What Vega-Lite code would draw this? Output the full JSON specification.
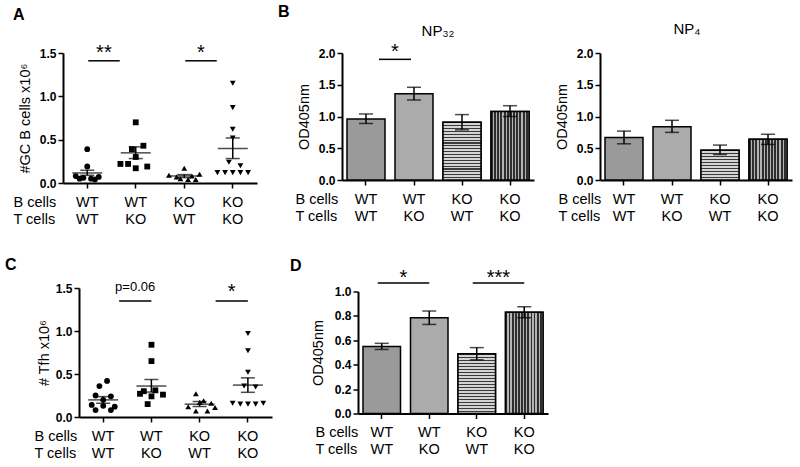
{
  "$schema": "https://vega.github.io/schema/vega-lite/v6.json",
  "background": "white",
  "padding": {"left": 5, "top": 4, "right": 5, "bottom": 5},
  "datasets": {
    "gcb": [
      {"grp": "WT/WT", "mouse": "m5", "v": 0.39}, {"grp": "WT/WT", "mouse": "m5", "v": 0.19},
      {"grp": "WT/WT", "mouse": "m2", "v": 0.08}, {"grp": "WT/WT", "mouse": "m8", "v": 0.07},
      {"grp": "WT/WT", "mouse": "m4", "v": 0.06}, {"grp": "WT/WT", "mouse": "m6", "v": 0.05},
      {"grp": "WT/WT", "mouse": "m3", "v": 0.05}, {"grp": "WT/WT", "mouse": "m7", "v": 0.04},
      {"grp": "WT/KO", "mouse": "m5", "v": 0.70}, {"grp": "WT/KO", "mouse": "m7", "v": 0.43},
      {"grp": "WT/KO", "mouse": "m4", "v": 0.39}, {"grp": "WT/KO", "mouse": "m5", "v": 0.30},
      {"grp": "WT/KO", "mouse": "m1", "v": 0.22}, {"grp": "WT/KO", "mouse": "m3", "v": 0.22},
      {"grp": "WT/KO", "mouse": "m5", "v": 0.17}, {"grp": "WT/KO", "mouse": "m8", "v": 0.19},
      {"grp": "KO/WT", "mouse": "m5", "v": 0.17}, {"grp": "KO/WT", "mouse": "m9", "v": 0.10},
      {"grp": "KO/WT", "mouse": "m1", "v": 0.09}, {"grp": "KO/WT", "mouse": "m7", "v": 0.08},
      {"grp": "KO/WT", "mouse": "m3", "v": 0.07}, {"grp": "KO/WT", "mouse": "m4", "v": 0.05},
      {"grp": "KO/WT", "mouse": "m6", "v": 0.04}, {"grp": "KO/WT", "mouse": "m8", "v": 0.04},
      {"grp": "KO/KO", "mouse": "m5", "v": 1.15}, {"grp": "KO/KO", "mouse": "m5", "v": 0.87},
      {"grp": "KO/KO", "mouse": "m5", "v": 0.62}, {"grp": "KO/KO", "mouse": "m5", "v": 0.52},
      {"grp": "KO/KO", "mouse": "m4", "v": 0.24}, {"grp": "KO/KO", "mouse": "m7", "v": 0.20},
      {"grp": "KO/KO", "mouse": "m1", "v": 0.12}, {"grp": "KO/KO", "mouse": "m3", "v": 0.12},
      {"grp": "KO/KO", "mouse": "m5", "v": 0.12}, {"grp": "KO/KO", "mouse": "m7", "v": 0.12},
      {"grp": "KO/KO", "mouse": "m9", "v": 0.12}
    ],
    "gcbsum": [
      {"grp": "WT/WT", "mean": 0.116, "lo": 0.089, "hi": 0.147},
      {"grp": "WT/KO", "mean": 0.348, "lo": 0.282, "hi": 0.417},
      {"grp": "KO/WT", "mean": 0.081, "lo": 0.062, "hi": 0.097},
      {"grp": "KO/KO", "mean": 0.398, "lo": 0.282, "hi": 0.52}
    ],
    "tfh": [
      {"grp": "WT/WT", "mouse": "m6", "v": 0.42}, {"grp": "WT/WT", "mouse": "m4", "v": 0.36},
      {"grp": "WT/WT", "mouse": "m3", "v": 0.25}, {"grp": "WT/WT", "mouse": "m7", "v": 0.24},
      {"grp": "WT/WT", "mouse": "m5", "v": 0.20}, {"grp": "WT/WT", "mouse": "m2", "v": 0.14},
      {"grp": "WT/WT", "mouse": "m5", "v": 0.13}, {"grp": "WT/WT", "mouse": "m8", "v": 0.12},
      {"grp": "WT/WT", "mouse": "m3", "v": 0.08}, {"grp": "WT/WT", "mouse": "m7", "v": 0.08},
      {"grp": "WT/KO", "mouse": "m5", "v": 0.84}, {"grp": "WT/KO", "mouse": "m5", "v": 0.65},
      {"grp": "WT/KO", "mouse": "m6", "v": 0.31}, {"grp": "WT/KO", "mouse": "m3", "v": 0.30},
      {"grp": "WT/KO", "mouse": "m2", "v": 0.27}, {"grp": "WT/KO", "mouse": "m8", "v": 0.26},
      {"grp": "WT/KO", "mouse": "m5", "v": 0.24}, {"grp": "WT/KO", "mouse": "m4", "v": 0.15},
      {"grp": "KO/WT", "mouse": "m4", "v": 0.27}, {"grp": "KO/WT", "mouse": "m6", "v": 0.19},
      {"grp": "KO/WT", "mouse": "m5", "v": 0.17}, {"grp": "KO/WT", "mouse": "m8", "v": 0.16},
      {"grp": "KO/WT", "mouse": "m2", "v": 0.12}, {"grp": "KO/WT", "mouse": "m9", "v": 0.11},
      {"grp": "KO/WT", "mouse": "m4", "v": 0.07}, {"grp": "KO/WT", "mouse": "m7", "v": 0.07},
      {"grp": "KO/KO", "mouse": "m5", "v": 0.97}, {"grp": "KO/KO", "mouse": "m5", "v": 0.77},
      {"grp": "KO/KO", "mouse": "m5", "v": 0.52}, {"grp": "KO/KO", "mouse": "m4", "v": 0.36},
      {"grp": "KO/KO", "mouse": "m7", "v": 0.35}, {"grp": "KO/KO", "mouse": "m1", "v": 0.16},
      {"grp": "KO/KO", "mouse": "m3", "v": 0.15}, {"grp": "KO/KO", "mouse": "m5", "v": 0.15},
      {"grp": "KO/KO", "mouse": "m7", "v": 0.15}, {"grp": "KO/KO", "mouse": "m9", "v": 0.16}
    ],
    "tfhsum": [
      {"grp": "WT/WT", "mean": 0.199, "lo": 0.16, "hi": 0.237},
      {"grp": "WT/KO", "mean": 0.36, "lo": 0.29, "hi": 0.436},
      {"grp": "KO/WT", "mean": 0.149, "lo": 0.122, "hi": 0.18},
      {"grp": "KO/KO", "mean": 0.371, "lo": 0.287, "hi": 0.455}
    ],
    "np32": [
      {"grp": "WT/WT", "mean": 0.96, "lo": 0.89, "hi": 1.04},
      {"grp": "WT/KO", "mean": 1.36, "lo": 1.26, "hi": 1.46},
      {"grp": "KO/WT", "mean": 0.91, "lo": 0.79, "hi": 1.03},
      {"grp": "KO/KO", "mean": 1.08, "lo": 1.0, "hi": 1.17}
    ],
    "np4": [
      {"grp": "WT/WT", "mean": 0.67, "lo": 0.57, "hi": 0.77},
      {"grp": "WT/KO", "mean": 0.84, "lo": 0.75, "hi": 0.94},
      {"grp": "KO/WT", "mean": 0.47, "lo": 0.40, "hi": 0.55},
      {"grp": "KO/KO", "mean": 0.64, "lo": 0.56, "hi": 0.72}
    ],
    "od": [
      {"grp": "WT/WT", "mean": 0.55, "lo": 0.525, "hi": 0.575},
      {"grp": "WT/KO", "mean": 0.785, "lo": 0.73, "hi": 0.84},
      {"grp": "KO/WT", "mean": 0.49, "lo": 0.44, "hi": 0.54},
      {"grp": "KO/KO", "mean": 0.83, "lo": 0.785, "hi": 0.875}
    ]
  },
  "vconcat": [
    {
      "hconcat": [
        {
          "width": 194, "height": 130,
          "title": {"text": "A", "dx": -50, "offset": 20},
          "layer": [
            {"data": {"name": "gcb"},
             "mark": {"type": "point", "filled": true, "color": "black", "opacity": 1, "size": 34},
             "encoding": {
               "x": {"field": "grp", "type": "nominal", "scale": {"domain": ["WT/WT","WT/KO","KO/WT","KO/KO"], "paddingInner": 0.21, "paddingOuter": 0.105}, "title": ["B cells", "T cells"], "axis": {"titleX": -50}},
               "xOffset": {"field": "mouse", "type": "nominal", "scale": {"type": "point", "domain": ["m1","m2","m3","m4","m5","m6","m7","m8","m9"], "padding": 2}},
               "y": {"field": "v", "type": "quantitative", "scale": {"domain": [0, 1.5], "nice": false}, "title": "#GC B cells x10⁶", "axis": {"values": [0, 0.5, 1, 1.5], "format": ".1f", "labelOverlap": false}},
               "shape": {"field": "grp", "type": "nominal", "scale": {"domain": ["WT/WT","WT/KO","KO/WT","KO/KO"], "range": ["circle","square","triangle-up","triangle-down"]}, "legend": null}
             }},
            {"data": {"name": "gcbsum"},
             "mark": {"type": "tick", "color": "black", "size": 30, "thickness": 1.5},
             "encoding": {
               "x": {"field": "grp", "type": "nominal", "scale": {"domain": ["WT/WT","WT/KO","KO/WT","KO/KO"], "paddingInner": 0.21, "paddingOuter": 0.105}},
               "y": {"field": "mean", "type": "quantitative", "scale": {"domain": [0, 1.5], "nice": false}}
             }},
            {"data": {"name": "gcbsum"},
             "mark": {"type": "tick", "color": "black", "size": 14, "thickness": 1.5},
             "encoding": {
               "x": {"field": "grp", "type": "nominal", "scale": {"domain": ["WT/WT","WT/KO","KO/WT","KO/KO"], "paddingInner": 0.21, "paddingOuter": 0.105}},
               "y": {"field": "hi", "type": "quantitative", "scale": {"domain": [0, 1.5], "nice": false}}
             }},
            {"data": {"name": "gcbsum"},
             "mark": {"type": "tick", "color": "black", "size": 14, "thickness": 1.5},
             "encoding": {
               "x": {"field": "grp", "type": "nominal", "scale": {"domain": ["WT/WT","WT/KO","KO/WT","KO/KO"], "paddingInner": 0.21, "paddingOuter": 0.105}},
               "y": {"field": "lo", "type": "quantitative", "scale": {"domain": [0, 1.5], "nice": false}}
             }},
            {"data": {"name": "gcbsum"},
             "mark": {"type": "rule", "color": "black", "strokeWidth": 1.5},
             "encoding": {
               "x": {"field": "grp", "type": "nominal", "scale": {"domain": ["WT/WT","WT/KO","KO/WT","KO/KO"], "paddingInner": 0.21, "paddingOuter": 0.105}},
               "y": {"field": "lo", "type": "quantitative", "scale": {"domain": [0, 1.5], "nice": false}},
               "y2": {"field": "hi"}
             }},
            {"data": {"values": [{"from": "WT/WT", "to": "WT/KO", "y": 1.41}, {"from": "KO/WT", "to": "KO/KO", "y": 1.41}]},
             "mark": {"type": "rule", "color": "black", "strokeWidth": 1.5, "xOffset": 1, "x2Offset": -16},
             "encoding": {
               "x": {"field": "from", "type": "nominal", "scale": {"domain": ["WT/WT","WT/KO","KO/WT","KO/KO"], "paddingInner": 0.21, "paddingOuter": 0.105}},
               "x2": {"field": "to"},
               "y": {"field": "y", "type": "quantitative", "scale": {"domain": [0, 1.5], "nice": false}}
             }},
            {"data": {"values": [{"from": "WT/WT", "y": 1.41, "label": "**"}, {"from": "KO/WT", "y": 1.41, "label": "*"}]},
             "mark": {"type": "text", "fontSize": 20, "baseline": "alphabetic", "dy": -2, "dx": -7.5, "color": "black"},
             "encoding": {
               "x": {"field": "from", "type": "nominal", "bandPosition": 1.13, "scale": {"domain": ["WT/WT","WT/KO","KO/WT","KO/KO"], "paddingInner": 0.21, "paddingOuter": 0.105}},
               "y": {"field": "y", "type": "quantitative", "scale": {"domain": [0, 1.5], "nice": false}},
               "text": {"field": "label"}
             }}
          ]
        },
        {
          "title": {"text": "B", "dx": -64, "offset": 2},
          "spacing": 66,
          "bounds": "flush",
          "hconcat": [
            {
              "width": 192, "height": 127,
              "title": {"text": "NP₃₂", "anchor": "middle", "fontWeight": "normal", "fontSize": 15, "offset": 3},
              "layer": [
                {"data": {"name": "np32"},
                 "mark": {"type": "bar", "stroke": "black", "strokeWidth": 1.5, "width": 38},
                 "encoding": {
                   "x": {"field": "grp", "type": "nominal", "scale": {"domain": ["WT/WT","WT/KO","KO/WT","KO/KO"], "paddingInner": 0.21, "paddingOuter": 0.105}, "title": ["B cells", "T cells"], "axis": {"titleX": -47}},
                   "y": {"field": "mean", "type": "quantitative", "stack": null, "scale": {"domain": [0, 2], "nice": false}, "title": "OD405nm", "axis": {"values": [0, 0.5, 1, 1.5, 2], "format": ".1f", "labelOverlap": false}},
                   "color": {"field": "grp", "type": "nominal", "scale": {"domain": ["WT/WT","WT/KO","KO/WT","KO/KO"], "range": ["#9a9a9a", "#ababab", "#8c8c8c", "#606060"]}, "legend": null}
                 }},
                {"data": {"name": "np32"},
                 "transform": [{"filter": "datum.grp == 'KO/WT'"}],
                 "mark": {"type": "bar", "stroke": "black", "strokeWidth": 1.5, "width": 38,
                          "fill": {"gradient": "linear", "x1": 0, "y1": 0, "x2": 0, "y2": 1, "stops": [
                            {"offset": 0, "color": "#3a3a3a"}, {"offset": 0.02, "color": "#3a3a3a"}, {"offset": 0.02, "color": "#d4d4d4"}, {"offset": 0.05, "color": "#d4d4d4"},
                            {"offset": 0.05, "color": "#3a3a3a"}, {"offset": 0.07, "color": "#3a3a3a"}, {"offset": 0.07, "color": "#d4d4d4"}, {"offset": 0.1, "color": "#d4d4d4"},
                            {"offset": 0.1, "color": "#3a3a3a"}, {"offset": 0.12, "color": "#3a3a3a"}, {"offset": 0.12, "color": "#d4d4d4"}, {"offset": 0.15, "color": "#d4d4d4"},
                            {"offset": 0.15, "color": "#3a3a3a"}, {"offset": 0.17, "color": "#3a3a3a"}, {"offset": 0.17, "color": "#d4d4d4"}, {"offset": 0.2, "color": "#d4d4d4"},
                            {"offset": 0.2, "color": "#3a3a3a"}, {"offset": 0.22, "color": "#3a3a3a"}, {"offset": 0.22, "color": "#d4d4d4"}, {"offset": 0.25, "color": "#d4d4d4"},
                            {"offset": 0.25, "color": "#3a3a3a"}, {"offset": 0.27, "color": "#3a3a3a"}, {"offset": 0.27, "color": "#d4d4d4"}, {"offset": 0.3, "color": "#d4d4d4"},
                            {"offset": 0.3, "color": "#3a3a3a"}, {"offset": 0.32, "color": "#3a3a3a"}, {"offset": 0.32, "color": "#d4d4d4"}, {"offset": 0.35, "color": "#d4d4d4"},
                            {"offset": 0.35, "color": "#3a3a3a"}, {"offset": 0.37, "color": "#3a3a3a"}, {"offset": 0.37, "color": "#d4d4d4"}, {"offset": 0.4, "color": "#d4d4d4"},
                            {"offset": 0.4, "color": "#3a3a3a"}, {"offset": 0.42, "color": "#3a3a3a"}, {"offset": 0.42, "color": "#d4d4d4"}, {"offset": 0.45, "color": "#d4d4d4"},
                            {"offset": 0.45, "color": "#3a3a3a"}, {"offset": 0.47, "color": "#3a3a3a"}, {"offset": 0.47, "color": "#d4d4d4"}, {"offset": 0.5, "color": "#d4d4d4"},
                            {"offset": 0.5, "color": "#3a3a3a"}, {"offset": 0.52, "color": "#3a3a3a"}, {"offset": 0.52, "color": "#d4d4d4"}, {"offset": 0.55, "color": "#d4d4d4"},
                            {"offset": 0.55, "color": "#3a3a3a"}, {"offset": 0.57, "color": "#3a3a3a"}, {"offset": 0.57, "color": "#d4d4d4"}, {"offset": 0.6, "color": "#d4d4d4"},
                            {"offset": 0.6, "color": "#3a3a3a"}, {"offset": 0.62, "color": "#3a3a3a"}, {"offset": 0.62, "color": "#d4d4d4"}, {"offset": 0.65, "color": "#d4d4d4"},
                            {"offset": 0.65, "color": "#3a3a3a"}, {"offset": 0.67, "color": "#3a3a3a"}, {"offset": 0.67, "color": "#d4d4d4"}, {"offset": 0.7, "color": "#d4d4d4"},
                            {"offset": 0.7, "color": "#3a3a3a"}, {"offset": 0.72, "color": "#3a3a3a"}, {"offset": 0.72, "color": "#d4d4d4"}, {"offset": 0.75, "color": "#d4d4d4"},
                            {"offset": 0.75, "color": "#3a3a3a"}, {"offset": 0.77, "color": "#3a3a3a"}, {"offset": 0.77, "color": "#d4d4d4"}, {"offset": 0.8, "color": "#d4d4d4"},
                            {"offset": 0.8, "color": "#3a3a3a"}, {"offset": 0.82, "color": "#3a3a3a"}, {"offset": 0.82, "color": "#d4d4d4"}, {"offset": 0.85, "color": "#d4d4d4"},
                            {"offset": 0.85, "color": "#3a3a3a"}, {"offset": 0.87, "color": "#3a3a3a"}, {"offset": 0.87, "color": "#d4d4d4"}, {"offset": 0.9, "color": "#d4d4d4"},
                            {"offset": 0.9, "color": "#3a3a3a"}, {"offset": 0.92, "color": "#3a3a3a"}, {"offset": 0.92, "color": "#d4d4d4"}, {"offset": 0.95, "color": "#d4d4d4"},
                            {"offset": 0.95, "color": "#3a3a3a"}, {"offset": 0.97, "color": "#3a3a3a"}, {"offset": 0.97, "color": "#d4d4d4"}, {"offset": 1, "color": "#d4d4d4"}
                          ]}},
                 "encoding": {
                   "x": {"field": "grp", "type": "nominal", "scale": {"domain": ["WT/WT","WT/KO","KO/WT","KO/KO"], "paddingInner": 0.21, "paddingOuter": 0.105}},
                   "y": {"field": "mean", "type": "quantitative", "stack": null, "scale": {"domain": [0, 2], "nice": false}, "axis": {"values": [0, 0.5, 1, 1.5, 2], "format": ".1f", "labelOverlap": false}}
                 }},
                {"data": {"name": "np32"},
                 "transform": [{"filter": "datum.grp == 'KO/KO'"}],
                 "mark": {"type": "bar", "stroke": "black", "strokeWidth": 1.5, "width": 38,
                          "fill": {"gradient": "linear", "x1": 0, "y1": 0, "x2": 1, "y2": 0, "stops": [
                            {"offset": 0, "color": "#2e2e2e"}, {"offset": 0.05, "color": "#2e2e2e"}, {"offset": 0.05, "color": "#b4b4b4"}, {"offset": 0.0833, "color": "#b4b4b4"},
                            {"offset": 0.0833, "color": "#2e2e2e"}, {"offset": 0.1333, "color": "#2e2e2e"}, {"offset": 0.1333, "color": "#b4b4b4"}, {"offset": 0.1667, "color": "#b4b4b4"},
                            {"offset": 0.1667, "color": "#2e2e2e"}, {"offset": 0.2167, "color": "#2e2e2e"}, {"offset": 0.2167, "color": "#b4b4b4"}, {"offset": 0.25, "color": "#b4b4b4"},
                            {"offset": 0.25, "color": "#2e2e2e"}, {"offset": 0.3, "color": "#2e2e2e"}, {"offset": 0.3, "color": "#b4b4b4"}, {"offset": 0.3333, "color": "#b4b4b4"},
                            {"offset": 0.3333, "color": "#2e2e2e"}, {"offset": 0.3833, "color": "#2e2e2e"}, {"offset": 0.3833, "color": "#b4b4b4"}, {"offset": 0.4167, "color": "#b4b4b4"},
                            {"offset": 0.4167, "color": "#2e2e2e"}, {"offset": 0.4667, "color": "#2e2e2e"}, {"offset": 0.4667, "color": "#b4b4b4"}, {"offset": 0.5, "color": "#b4b4b4"},
                            {"offset": 0.5, "color": "#2e2e2e"}, {"offset": 0.55, "color": "#2e2e2e"}, {"offset": 0.55, "color": "#b4b4b4"}, {"offset": 0.5833, "color": "#b4b4b4"},
                            {"offset": 0.5833, "color": "#2e2e2e"}, {"offset": 0.6333, "color": "#2e2e2e"}, {"offset": 0.6333, "color": "#b4b4b4"}, {"offset": 0.6667, "color": "#b4b4b4"},
                            {"offset": 0.6667, "color": "#2e2e2e"}, {"offset": 0.7167, "color": "#2e2e2e"}, {"offset": 0.7167, "color": "#b4b4b4"}, {"offset": 0.75, "color": "#b4b4b4"},
                            {"offset": 0.75, "color": "#2e2e2e"}, {"offset": 0.8, "color": "#2e2e2e"}, {"offset": 0.8, "color": "#b4b4b4"}, {"offset": 0.8333, "color": "#b4b4b4"},
                            {"offset": 0.8333, "color": "#2e2e2e"}, {"offset": 0.8833, "color": "#2e2e2e"}, {"offset": 0.8833, "color": "#b4b4b4"}, {"offset": 0.9167, "color": "#b4b4b4"},
                            {"offset": 0.9167, "color": "#2e2e2e"}, {"offset": 0.9667, "color": "#2e2e2e"}, {"offset": 0.9667, "color": "#b4b4b4"}, {"offset": 1, "color": "#b4b4b4"}
                          ]}},
                 "encoding": {
                   "x": {"field": "grp", "type": "nominal", "scale": {"domain": ["WT/WT","WT/KO","KO/WT","KO/KO"], "paddingInner": 0.21, "paddingOuter": 0.105}},
                   "y": {"field": "mean", "type": "quantitative", "stack": null, "scale": {"domain": [0, 2], "nice": false}, "axis": {"values": [0, 0.5, 1, 1.5, 2], "format": ".1f", "labelOverlap": false}}
                 }},
                {"data": {"name": "np32"},
                 "mark": {"type": "rule", "color": "black", "strokeWidth": 1.5},
                 "encoding": {
                   "x": {"field": "grp", "type": "nominal", "scale": {"domain": ["WT/WT","WT/KO","KO/WT","KO/KO"], "paddingInner": 0.21, "paddingOuter": 0.105}},
                   "y": {"field": "lo", "type": "quantitative", "scale": {"domain": [0, 2], "nice": false}, "axis": {"values": [0, 0.5, 1, 1.5, 2], "format": ".1f", "labelOverlap": false}},
                   "y2": {"field": "hi"}
                 }},
                {"data": {"name": "np32"},
                 "mark": {"type": "tick", "color": "black", "size": 14, "thickness": 1.5},
                 "encoding": {
                   "x": {"field": "grp", "type": "nominal", "scale": {"domain": ["WT/WT","WT/KO","KO/WT","KO/KO"], "paddingInner": 0.21, "paddingOuter": 0.105}},
                   "y": {"field": "hi", "type": "quantitative", "scale": {"domain": [0, 2], "nice": false}, "axis": {"values": [0, 0.5, 1, 1.5, 2], "format": ".1f", "labelOverlap": false}}
                 }},
                {"data": {"name": "np32"},
                 "mark": {"type": "tick", "color": "black", "size": 14, "thickness": 1.5},
                 "encoding": {
                   "x": {"field": "grp", "type": "nominal", "scale": {"domain": ["WT/WT","WT/KO","KO/WT","KO/KO"], "paddingInner": 0.21, "paddingOuter": 0.105}},
                   "y": {"field": "lo", "type": "quantitative", "scale": {"domain": [0, 2], "nice": false}, "axis": {"values": [0, 0.5, 1, 1.5, 2], "format": ".1f", "labelOverlap": false}}
                 }},
                {"data": {"values": [{"from": "WT/WT", "to": "WT/KO", "y": 1.9}]},
                 "mark": {"type": "rule", "color": "black", "strokeWidth": 1.5, "xOffset": 13, "x2Offset": -3},
                 "encoding": {
                   "x": {"field": "from", "type": "nominal", "scale": {"domain": ["WT/WT","WT/KO","KO/WT","KO/KO"], "paddingInner": 0.21, "paddingOuter": 0.105}},
                   "x2": {"field": "to"},
                   "y": {"field": "y", "type": "quantitative", "scale": {"domain": [0, 2], "nice": false}, "axis": {"values": [0, 0.5, 1, 1.5, 2], "format": ".1f", "labelOverlap": false}}
                 }},
                {"data": {"values": [{"from": "WT/WT", "y": 1.9, "label": "*"}]},
                 "mark": {"type": "text", "fontSize": 20, "baseline": "alphabetic", "dy": -1.5, "dx": 5, "color": "black"},
                 "encoding": {
                   "x": {"field": "from", "type": "nominal", "bandPosition": 1.13, "scale": {"domain": ["WT/WT","WT/KO","KO/WT","KO/KO"], "paddingInner": 0.21, "paddingOuter": 0.105}},
                   "y": {"field": "y", "type": "quantitative", "scale": {"domain": [0, 2], "nice": false}, "axis": {"values": [0, 0.5, 1, 1.5, 2], "format": ".1f", "labelOverlap": false}},
                   "text": {"field": "label"}
                 }}
              ]
            },
            {
              "width": 192, "height": 127,
              "title": {"text": "NP₄", "anchor": "middle", "fontWeight": "normal", "fontSize": 15, "offset": 10, "dx": -9},
              "layer": [
                {"data": {"name": "np4"},
                 "mark": {"type": "bar", "stroke": "black", "strokeWidth": 1.5, "width": 38},
                 "encoding": {
                   "x": {"field": "grp", "type": "nominal", "scale": {"domain": ["WT/WT","WT/KO","KO/WT","KO/KO"], "paddingInner": 0.21, "paddingOuter": 0.105}, "title": ["B cells", "T cells"], "axis": {"titleX": -42}},
                   "y": {"field": "mean", "type": "quantitative", "stack": null, "scale": {"domain": [0, 2], "nice": false}, "title": "OD405nm", "axis": {"values": [0, 0.5, 1, 1.5, 2], "format": ".1f", "labelOverlap": false}},
                   "color": {"field": "grp", "type": "nominal", "scale": {"domain": ["WT/WT","WT/KO","KO/WT","KO/KO"], "range": ["#9a9a9a", "#ababab", "#8c8c8c", "#606060"]}, "legend": null}
                 }},
                {"data": {"name": "np4"},
                 "transform": [{"filter": "datum.grp == 'KO/WT'"}],
                 "mark": {"type": "bar", "stroke": "black", "strokeWidth": 1.5, "width": 38,
                          "fill": {"gradient": "linear", "x1": 0, "y1": 0, "x2": 0, "y2": 1, "stops": [
                            {"offset": 0, "color": "#3a3a3a"}, {"offset": 0.04, "color": "#3a3a3a"}, {"offset": 0.04, "color": "#d4d4d4"}, {"offset": 0.1, "color": "#d4d4d4"},
                            {"offset": 0.1, "color": "#3a3a3a"}, {"offset": 0.14, "color": "#3a3a3a"}, {"offset": 0.14, "color": "#d4d4d4"}, {"offset": 0.2, "color": "#d4d4d4"},
                            {"offset": 0.2, "color": "#3a3a3a"}, {"offset": 0.24, "color": "#3a3a3a"}, {"offset": 0.24, "color": "#d4d4d4"}, {"offset": 0.3, "color": "#d4d4d4"},
                            {"offset": 0.3, "color": "#3a3a3a"}, {"offset": 0.34, "color": "#3a3a3a"}, {"offset": 0.34, "color": "#d4d4d4"}, {"offset": 0.4, "color": "#d4d4d4"},
                            {"offset": 0.4, "color": "#3a3a3a"}, {"offset": 0.44, "color": "#3a3a3a"}, {"offset": 0.44, "color": "#d4d4d4"}, {"offset": 0.5, "color": "#d4d4d4"},
                            {"offset": 0.5, "color": "#3a3a3a"}, {"offset": 0.54, "color": "#3a3a3a"}, {"offset": 0.54, "color": "#d4d4d4"}, {"offset": 0.6, "color": "#d4d4d4"},
                            {"offset": 0.6, "color": "#3a3a3a"}, {"offset": 0.64, "color": "#3a3a3a"}, {"offset": 0.64, "color": "#d4d4d4"}, {"offset": 0.7, "color": "#d4d4d4"},
                            {"offset": 0.7, "color": "#3a3a3a"}, {"offset": 0.74, "color": "#3a3a3a"}, {"offset": 0.74, "color": "#d4d4d4"}, {"offset": 0.8, "color": "#d4d4d4"},
                            {"offset": 0.8, "color": "#3a3a3a"}, {"offset": 0.84, "color": "#3a3a3a"}, {"offset": 0.84, "color": "#d4d4d4"}, {"offset": 0.9, "color": "#d4d4d4"},
                            {"offset": 0.9, "color": "#3a3a3a"}, {"offset": 0.94, "color": "#3a3a3a"}, {"offset": 0.94, "color": "#d4d4d4"}, {"offset": 1, "color": "#d4d4d4"}
                          ]}},
                 "encoding": {
                   "x": {"field": "grp", "type": "nominal", "scale": {"domain": ["WT/WT","WT/KO","KO/WT","KO/KO"], "paddingInner": 0.21, "paddingOuter": 0.105}},
                   "y": {"field": "mean", "type": "quantitative", "stack": null, "scale": {"domain": [0, 2], "nice": false}, "axis": {"values": [0, 0.5, 1, 1.5, 2], "format": ".1f", "labelOverlap": false}}
                 }},
                {"data": {"name": "np4"},
                 "transform": [{"filter": "datum.grp == 'KO/KO'"}],
                 "mark": {"type": "bar", "stroke": "black", "strokeWidth": 1.5, "width": 38,
                          "fill": {"gradient": "linear", "x1": 0, "y1": 0, "x2": 1, "y2": 0, "stops": [
                            {"offset": 0, "color": "#2e2e2e"}, {"offset": 0.05, "color": "#2e2e2e"}, {"offset": 0.05, "color": "#b4b4b4"}, {"offset": 0.0833, "color": "#b4b4b4"},
                            {"offset": 0.0833, "color": "#2e2e2e"}, {"offset": 0.1333, "color": "#2e2e2e"}, {"offset": 0.1333, "color": "#b4b4b4"}, {"offset": 0.1667, "color": "#b4b4b4"},
                            {"offset": 0.1667, "color": "#2e2e2e"}, {"offset": 0.2167, "color": "#2e2e2e"}, {"offset": 0.2167, "color": "#b4b4b4"}, {"offset": 0.25, "color": "#b4b4b4"},
                            {"offset": 0.25, "color": "#2e2e2e"}, {"offset": 0.3, "color": "#2e2e2e"}, {"offset": 0.3, "color": "#b4b4b4"}, {"offset": 0.3333, "color": "#b4b4b4"},
                            {"offset": 0.3333, "color": "#2e2e2e"}, {"offset": 0.3833, "color": "#2e2e2e"}, {"offset": 0.3833, "color": "#b4b4b4"}, {"offset": 0.4167, "color": "#b4b4b4"},
                            {"offset": 0.4167, "color": "#2e2e2e"}, {"offset": 0.4667, "color": "#2e2e2e"}, {"offset": 0.4667, "color": "#b4b4b4"}, {"offset": 0.5, "color": "#b4b4b4"},
                            {"offset": 0.5, "color": "#2e2e2e"}, {"offset": 0.55, "color": "#2e2e2e"}, {"offset": 0.55, "color": "#b4b4b4"}, {"offset": 0.5833, "color": "#b4b4b4"},
                            {"offset": 0.5833, "color": "#2e2e2e"}, {"offset": 0.6333, "color": "#2e2e2e"}, {"offset": 0.6333, "color": "#b4b4b4"}, {"offset": 0.6667, "color": "#b4b4b4"},
                            {"offset": 0.6667, "color": "#2e2e2e"}, {"offset": 0.7167, "color": "#2e2e2e"}, {"offset": 0.7167, "color": "#b4b4b4"}, {"offset": 0.75, "color": "#b4b4b4"},
                            {"offset": 0.75, "color": "#2e2e2e"}, {"offset": 0.8, "color": "#2e2e2e"}, {"offset": 0.8, "color": "#b4b4b4"}, {"offset": 0.8333, "color": "#b4b4b4"},
                            {"offset": 0.8333, "color": "#2e2e2e"}, {"offset": 0.8833, "color": "#2e2e2e"}, {"offset": 0.8833, "color": "#b4b4b4"}, {"offset": 0.9167, "color": "#b4b4b4"},
                            {"offset": 0.9167, "color": "#2e2e2e"}, {"offset": 0.9667, "color": "#2e2e2e"}, {"offset": 0.9667, "color": "#b4b4b4"}, {"offset": 1, "color": "#b4b4b4"}
                          ]}},
                 "encoding": {
                   "x": {"field": "grp", "type": "nominal", "scale": {"domain": ["WT/WT","WT/KO","KO/WT","KO/KO"], "paddingInner": 0.21, "paddingOuter": 0.105}},
                   "y": {"field": "mean", "type": "quantitative", "stack": null, "scale": {"domain": [0, 2], "nice": false}, "axis": {"values": [0, 0.5, 1, 1.5, 2], "format": ".1f", "labelOverlap": false}}
                 }},
                {"data": {"name": "np4"},
                 "mark": {"type": "rule", "color": "black", "strokeWidth": 1.5},
                 "encoding": {
                   "x": {"field": "grp", "type": "nominal", "scale": {"domain": ["WT/WT","WT/KO","KO/WT","KO/KO"], "paddingInner": 0.21, "paddingOuter": 0.105}},
                   "y": {"field": "lo", "type": "quantitative", "scale": {"domain": [0, 2], "nice": false}, "axis": {"values": [0, 0.5, 1, 1.5, 2], "format": ".1f", "labelOverlap": false}},
                   "y2": {"field": "hi"}
                 }},
                {"data": {"name": "np4"},
                 "mark": {"type": "tick", "color": "black", "size": 14, "thickness": 1.5},
                 "encoding": {
                   "x": {"field": "grp", "type": "nominal", "scale": {"domain": ["WT/WT","WT/KO","KO/WT","KO/KO"], "paddingInner": 0.21, "paddingOuter": 0.105}},
                   "y": {"field": "hi", "type": "quantitative", "scale": {"domain": [0, 2], "nice": false}, "axis": {"values": [0, 0.5, 1, 1.5, 2], "format": ".1f", "labelOverlap": false}}
                 }},
                {"data": {"name": "np4"},
                 "mark": {"type": "tick", "color": "black", "size": 14, "thickness": 1.5},
                 "encoding": {
                   "x": {"field": "grp", "type": "nominal", "scale": {"domain": ["WT/WT","WT/KO","KO/WT","KO/KO"], "paddingInner": 0.21, "paddingOuter": 0.105}},
                   "y": {"field": "lo", "type": "quantitative", "scale": {"domain": [0, 2], "nice": false}, "axis": {"values": [0, 0.5, 1, 1.5, 2], "format": ".1f", "labelOverlap": false}}
                 }}
              ]
            }
          ]
        }
      ],
      "spacing": 85,
      "bounds": "flush"
    },
    {
      "hconcat": [
        {"width": 1, "height": 1, "data": {"values": []}, "mark": "point"},
        {
          "hconcat": [
            {
              "width": 193, "height": 129,
              "title": {"text": "C", "dx": -74, "offset": 8},
              "layer": [
                {"data": {"name": "tfh"},
                 "mark": {"type": "point", "filled": true, "color": "black", "opacity": 1, "size": 34},
                 "encoding": {
                   "x": {"field": "grp", "type": "nominal", "scale": {"domain": ["WT/WT","WT/KO","KO/WT","KO/KO"], "paddingInner": 0.21, "paddingOuter": 0.105}, "title": ["B cells", "T cells"], "axis": {"titleX": -45}},
                   "xOffset": {"field": "mouse", "type": "nominal", "scale": {"type": "point", "domain": ["m1","m2","m3","m4","m5","m6","m7","m8","m9"], "padding": 2}},
                   "y": {"field": "v", "type": "quantitative", "scale": {"domain": [0, 1.5], "nice": false}, "title": "# Tfh x10⁶", "axis": {"values": [0, 0.5, 1, 1.5], "format": ".1f", "titlePadding": 4, "labelOverlap": false}},
                   "shape": {"field": "grp", "type": "nominal", "scale": {"domain": ["WT/WT","WT/KO","KO/WT","KO/KO"], "range": ["circle","square","triangle-up","triangle-down"]}, "legend": null}
                 }},
                {"data": {"name": "tfhsum"},
                 "mark": {"type": "tick", "color": "black", "size": 30, "thickness": 1.5},
                 "encoding": {
                   "x": {"field": "grp", "type": "nominal", "scale": {"domain": ["WT/WT","WT/KO","KO/WT","KO/KO"], "paddingInner": 0.21, "paddingOuter": 0.105}},
                   "y": {"field": "mean", "type": "quantitative", "scale": {"domain": [0, 1.5], "nice": false}}
                 }},
                {"data": {"name": "tfhsum"},
                 "mark": {"type": "tick", "color": "black", "size": 14, "thickness": 1.5},
                 "encoding": {
                   "x": {"field": "grp", "type": "nominal", "scale": {"domain": ["WT/WT","WT/KO","KO/WT","KO/KO"], "paddingInner": 0.21, "paddingOuter": 0.105}},
                   "y": {"field": "hi", "type": "quantitative", "scale": {"domain": [0, 1.5], "nice": false}}
                 }},
                {"data": {"name": "tfhsum"},
                 "mark": {"type": "tick", "color": "black", "size": 14, "thickness": 1.5},
                 "encoding": {
                   "x": {"field": "grp", "type": "nominal", "scale": {"domain": ["WT/WT","WT/KO","KO/WT","KO/KO"], "paddingInner": 0.21, "paddingOuter": 0.105}},
                   "y": {"field": "lo", "type": "quantitative", "scale": {"domain": [0, 1.5], "nice": false}}
                 }},
                {"data": {"name": "tfhsum"},
                 "mark": {"type": "rule", "color": "black", "strokeWidth": 1.5},
                 "encoding": {
                   "x": {"field": "grp", "type": "nominal", "scale": {"domain": ["WT/WT","WT/KO","KO/WT","KO/KO"], "paddingInner": 0.21, "paddingOuter": 0.105}},
                   "y": {"field": "lo", "type": "quantitative", "scale": {"domain": [0, 1.5], "nice": false}},
                   "y2": {"field": "hi"}
                 }},
                {"data": {"values": [{"from": "WT/WT", "to": "WT/KO", "y": 1.35}, {"from": "KO/WT", "to": "KO/KO", "y": 1.35}]},
                 "mark": {"type": "rule", "color": "black", "strokeWidth": 1.5, "xOffset": 16, "x2Offset": 0},
                 "encoding": {
                   "x": {"field": "from", "type": "nominal", "scale": {"domain": ["WT/WT","WT/KO","KO/WT","KO/KO"], "paddingInner": 0.21, "paddingOuter": 0.105}},
                   "x2": {"field": "to"},
                   "y": {"field": "y", "type": "quantitative", "scale": {"domain": [0, 1.5], "nice": false}}
                 }},
                {"data": {"values": [{"from": "WT/WT", "y": 1.35, "label": "p=0.06"}]},
                 "mark": {"type": "text", "fontSize": 13, "baseline": "alphabetic", "dy": -10, "dx": 8, "color": "black"},
                 "encoding": {
                   "x": {"field": "from", "type": "nominal", "bandPosition": 1.13, "scale": {"domain": ["WT/WT","WT/KO","KO/WT","KO/KO"], "paddingInner": 0.21, "paddingOuter": 0.105}},
                   "y": {"field": "y", "type": "quantitative", "scale": {"domain": [0, 1.5], "nice": false}},
                   "text": {"field": "label"}
                 }},
                {"data": {"values": [{"from": "KO/WT", "y": 1.35, "label": "*"}]},
                 "mark": {"type": "text", "fontSize": 20, "baseline": "alphabetic", "dy": -2.5, "dx": 8, "color": "black"},
                 "encoding": {
                   "x": {"field": "from", "type": "nominal", "bandPosition": 1.13, "scale": {"domain": ["WT/WT","WT/KO","KO/WT","KO/KO"], "paddingInner": 0.21, "paddingOuter": 0.105}},
                   "y": {"field": "y", "type": "quantitative", "scale": {"domain": [0, 1.5], "nice": false}},
                   "text": {"field": "label"}
                 }}
              ]
            },
            {
              "width": 190, "height": 122,
              "title": {"text": "D", "dx": -68, "offset": -6},
              "layer": [
                {"data": {"name": "od"},
                 "mark": {"type": "bar", "stroke": "black", "strokeWidth": 1.5, "width": 37.5},
                 "encoding": {
                   "x": {"field": "grp", "type": "nominal", "scale": {"domain": ["WT/WT","WT/KO","KO/WT","KO/KO"], "paddingInner": 0.21, "paddingOuter": 0.105}, "title": ["B cells", "T cells"], "axis": {"titleX": -43}},
                   "y": {"field": "mean", "type": "quantitative", "stack": null, "scale": {"domain": [0, 1], "nice": false}, "title": "OD405nm", "axis": {"values": [0, 0.2, 0.4, 0.6, 0.8, 1], "format": ".1f", "titlePadding": 9, "labelOverlap": false}},
                   "color": {"field": "grp", "type": "nominal", "scale": {"domain": ["WT/WT","WT/KO","KO/WT","KO/KO"], "range": ["#9a9a9a", "#ababab", "#8c8c8c", "#606060"]}, "legend": null}
                 }},
                {"data": {"name": "od"},
                 "transform": [{"filter": "datum.grp == 'KO/WT'"}],
                 "mark": {"type": "bar", "stroke": "black", "strokeWidth": 1.5, "width": 37.5,
                          "fill": {"gradient": "linear", "x1": 0, "y1": 0, "x2": 0, "y2": 1, "stops": [
                            {"offset": 0, "color": "#3a3a3a"}, {"offset": 0.02, "color": "#3a3a3a"}, {"offset": 0.02, "color": "#d4d4d4"}, {"offset": 0.05, "color": "#d4d4d4"},
                            {"offset": 0.05, "color": "#3a3a3a"}, {"offset": 0.07, "color": "#3a3a3a"}, {"offset": 0.07, "color": "#d4d4d4"}, {"offset": 0.1, "color": "#d4d4d4"},
                            {"offset": 0.1, "color": "#3a3a3a"}, {"offset": 0.12, "color": "#3a3a3a"}, {"offset": 0.12, "color": "#d4d4d4"}, {"offset": 0.15, "color": "#d4d4d4"},
                            {"offset": 0.15, "color": "#3a3a3a"}, {"offset": 0.17, "color": "#3a3a3a"}, {"offset": 0.17, "color": "#d4d4d4"}, {"offset": 0.2, "color": "#d4d4d4"},
                            {"offset": 0.2, "color": "#3a3a3a"}, {"offset": 0.22, "color": "#3a3a3a"}, {"offset": 0.22, "color": "#d4d4d4"}, {"offset": 0.25, "color": "#d4d4d4"},
                            {"offset": 0.25, "color": "#3a3a3a"}, {"offset": 0.27, "color": "#3a3a3a"}, {"offset": 0.27, "color": "#d4d4d4"}, {"offset": 0.3, "color": "#d4d4d4"},
                            {"offset": 0.3, "color": "#3a3a3a"}, {"offset": 0.32, "color": "#3a3a3a"}, {"offset": 0.32, "color": "#d4d4d4"}, {"offset": 0.35, "color": "#d4d4d4"},
                            {"offset": 0.35, "color": "#3a3a3a"}, {"offset": 0.37, "color": "#3a3a3a"}, {"offset": 0.37, "color": "#d4d4d4"}, {"offset": 0.4, "color": "#d4d4d4"},
                            {"offset": 0.4, "color": "#3a3a3a"}, {"offset": 0.42, "color": "#3a3a3a"}, {"offset": 0.42, "color": "#d4d4d4"}, {"offset": 0.45, "color": "#d4d4d4"},
                            {"offset": 0.45, "color": "#3a3a3a"}, {"offset": 0.47, "color": "#3a3a3a"}, {"offset": 0.47, "color": "#d4d4d4"}, {"offset": 0.5, "color": "#d4d4d4"},
                            {"offset": 0.5, "color": "#3a3a3a"}, {"offset": 0.52, "color": "#3a3a3a"}, {"offset": 0.52, "color": "#d4d4d4"}, {"offset": 0.55, "color": "#d4d4d4"},
                            {"offset": 0.55, "color": "#3a3a3a"}, {"offset": 0.57, "color": "#3a3a3a"}, {"offset": 0.57, "color": "#d4d4d4"}, {"offset": 0.6, "color": "#d4d4d4"},
                            {"offset": 0.6, "color": "#3a3a3a"}, {"offset": 0.62, "color": "#3a3a3a"}, {"offset": 0.62, "color": "#d4d4d4"}, {"offset": 0.65, "color": "#d4d4d4"},
                            {"offset": 0.65, "color": "#3a3a3a"}, {"offset": 0.67, "color": "#3a3a3a"}, {"offset": 0.67, "color": "#d4d4d4"}, {"offset": 0.7, "color": "#d4d4d4"},
                            {"offset": 0.7, "color": "#3a3a3a"}, {"offset": 0.72, "color": "#3a3a3a"}, {"offset": 0.72, "color": "#d4d4d4"}, {"offset": 0.75, "color": "#d4d4d4"},
                            {"offset": 0.75, "color": "#3a3a3a"}, {"offset": 0.77, "color": "#3a3a3a"}, {"offset": 0.77, "color": "#d4d4d4"}, {"offset": 0.8, "color": "#d4d4d4"},
                            {"offset": 0.8, "color": "#3a3a3a"}, {"offset": 0.82, "color": "#3a3a3a"}, {"offset": 0.82, "color": "#d4d4d4"}, {"offset": 0.85, "color": "#d4d4d4"},
                            {"offset": 0.85, "color": "#3a3a3a"}, {"offset": 0.87, "color": "#3a3a3a"}, {"offset": 0.87, "color": "#d4d4d4"}, {"offset": 0.9, "color": "#d4d4d4"},
                            {"offset": 0.9, "color": "#3a3a3a"}, {"offset": 0.92, "color": "#3a3a3a"}, {"offset": 0.92, "color": "#d4d4d4"}, {"offset": 0.95, "color": "#d4d4d4"},
                            {"offset": 0.95, "color": "#3a3a3a"}, {"offset": 0.97, "color": "#3a3a3a"}, {"offset": 0.97, "color": "#d4d4d4"}, {"offset": 1, "color": "#d4d4d4"}
                          ]}},
                 "encoding": {
                   "x": {"field": "grp", "type": "nominal", "scale": {"domain": ["WT/WT","WT/KO","KO/WT","KO/KO"], "paddingInner": 0.21, "paddingOuter": 0.105}},
                   "y": {"field": "mean", "type": "quantitative", "stack": null, "scale": {"domain": [0, 1], "nice": false}, "axis": {"values": [0, 0.2, 0.4, 0.6, 0.8, 1], "format": ".1f", "labelOverlap": false}}
                 }},
                {"data": {"name": "od"},
                 "transform": [{"filter": "datum.grp == 'KO/KO'"}],
                 "mark": {"type": "bar", "stroke": "black", "strokeWidth": 1.5, "width": 37.5,
                          "fill": {"gradient": "linear", "x1": 0, "y1": 0, "x2": 1, "y2": 0, "stops": [
                            {"offset": 0, "color": "#2e2e2e"}, {"offset": 0.05, "color": "#2e2e2e"}, {"offset": 0.05, "color": "#b4b4b4"}, {"offset": 0.0833, "color": "#b4b4b4"},
                            {"offset": 0.0833, "color": "#2e2e2e"}, {"offset": 0.1333, "color": "#2e2e2e"}, {"offset": 0.1333, "color": "#b4b4b4"}, {"offset": 0.1667, "color": "#b4b4b4"},
                            {"offset": 0.1667, "color": "#2e2e2e"}, {"offset": 0.2167, "color": "#2e2e2e"}, {"offset": 0.2167, "color": "#b4b4b4"}, {"offset": 0.25, "color": "#b4b4b4"},
                            {"offset": 0.25, "color": "#2e2e2e"}, {"offset": 0.3, "color": "#2e2e2e"}, {"offset": 0.3, "color": "#b4b4b4"}, {"offset": 0.3333, "color": "#b4b4b4"},
                            {"offset": 0.3333, "color": "#2e2e2e"}, {"offset": 0.3833, "color": "#2e2e2e"}, {"offset": 0.3833, "color": "#b4b4b4"}, {"offset": 0.4167, "color": "#b4b4b4"},
                            {"offset": 0.4167, "color": "#2e2e2e"}, {"offset": 0.4667, "color": "#2e2e2e"}, {"offset": 0.4667, "color": "#b4b4b4"}, {"offset": 0.5, "color": "#b4b4b4"},
                            {"offset": 0.5, "color": "#2e2e2e"}, {"offset": 0.55, "color": "#2e2e2e"}, {"offset": 0.55, "color": "#b4b4b4"}, {"offset": 0.5833, "color": "#b4b4b4"},
                            {"offset": 0.5833, "color": "#2e2e2e"}, {"offset": 0.6333, "color": "#2e2e2e"}, {"offset": 0.6333, "color": "#b4b4b4"}, {"offset": 0.6667, "color": "#b4b4b4"},
                            {"offset": 0.6667, "color": "#2e2e2e"}, {"offset": 0.7167, "color": "#2e2e2e"}, {"offset": 0.7167, "color": "#b4b4b4"}, {"offset": 0.75, "color": "#b4b4b4"},
                            {"offset": 0.75, "color": "#2e2e2e"}, {"offset": 0.8, "color": "#2e2e2e"}, {"offset": 0.8, "color": "#b4b4b4"}, {"offset": 0.8333, "color": "#b4b4b4"},
                            {"offset": 0.8333, "color": "#2e2e2e"}, {"offset": 0.8833, "color": "#2e2e2e"}, {"offset": 0.8833, "color": "#b4b4b4"}, {"offset": 0.9167, "color": "#b4b4b4"},
                            {"offset": 0.9167, "color": "#2e2e2e"}, {"offset": 0.9667, "color": "#2e2e2e"}, {"offset": 0.9667, "color": "#b4b4b4"}, {"offset": 1, "color": "#b4b4b4"}
                          ]}},
                 "encoding": {
                   "x": {"field": "grp", "type": "nominal", "scale": {"domain": ["WT/WT","WT/KO","KO/WT","KO/KO"], "paddingInner": 0.21, "paddingOuter": 0.105}},
                   "y": {"field": "mean", "type": "quantitative", "stack": null, "scale": {"domain": [0, 1], "nice": false}, "axis": {"values": [0, 0.2, 0.4, 0.6, 0.8, 1], "format": ".1f", "labelOverlap": false}}
                 }},
                {"data": {"name": "od"},
                 "mark": {"type": "rule", "color": "black", "strokeWidth": 1.5},
                 "encoding": {
                   "x": {"field": "grp", "type": "nominal", "scale": {"domain": ["WT/WT","WT/KO","KO/WT","KO/KO"], "paddingInner": 0.21, "paddingOuter": 0.105}},
                   "y": {"field": "lo", "type": "quantitative", "scale": {"domain": [0, 1], "nice": false}, "axis": {"values": [0, 0.2, 0.4, 0.6, 0.8, 1], "format": ".1f", "labelOverlap": false}},
                   "y2": {"field": "hi"}
                 }},
                {"data": {"name": "od"},
                 "mark": {"type": "tick", "color": "black", "size": 14, "thickness": 1.5},
                 "encoding": {
                   "x": {"field": "grp", "type": "nominal", "scale": {"domain": ["WT/WT","WT/KO","KO/WT","KO/KO"], "paddingInner": 0.21, "paddingOuter": 0.105}},
                   "y": {"field": "hi", "type": "quantitative", "scale": {"domain": [0, 1], "nice": false}, "axis": {"values": [0, 0.2, 0.4, 0.6, 0.8, 1], "format": ".1f", "labelOverlap": false}}
                 }},
                {"data": {"name": "od"},
                 "mark": {"type": "tick", "color": "black", "size": 14, "thickness": 1.5},
                 "encoding": {
                   "x": {"field": "grp", "type": "nominal", "scale": {"domain": ["WT/WT","WT/KO","KO/WT","KO/KO"], "paddingInner": 0.21, "paddingOuter": 0.105}},
                   "y": {"field": "lo", "type": "quantitative", "scale": {"domain": [0, 1], "nice": false}, "axis": {"values": [0, 0.2, 0.4, 0.6, 0.8, 1], "format": ".1f", "labelOverlap": false}}
                 }},
                {"data": {"values": [{"from": "WT/WT", "to": "WT/KO", "y": 1.07}, {"from": "KO/WT", "to": "KO/KO", "y": 1.07}]},
                 "mark": {"type": "rule", "color": "black", "strokeWidth": 1.5, "xOffset": -4, "x2Offset": 0},
                 "encoding": {
                   "x": {"field": "from", "type": "nominal", "scale": {"domain": ["WT/WT","WT/KO","KO/WT","KO/KO"], "paddingInner": 0.21, "paddingOuter": 0.105}},
                   "x2": {"field": "to"},
                   "y": {"field": "y", "type": "quantitative", "scale": {"domain": [0, 1], "nice": false}, "axis": {"values": [0, 0.2, 0.4, 0.6, 0.8, 1], "format": ".1f", "labelOverlap": false}}
                 }},
                {"data": {"values": [{"from": "WT/WT", "y": 1.07, "label": "*"}, {"from": "KO/WT", "y": 1.07, "label": "***"}]},
                 "mark": {"type": "text", "fontSize": 20, "baseline": "alphabetic", "dy": 1, "dx": -2, "color": "black"},
                 "encoding": {
                   "x": {"field": "from", "type": "nominal", "bandPosition": 1.13, "scale": {"domain": ["WT/WT","WT/KO","KO/WT","KO/KO"], "paddingInner": 0.21, "paddingOuter": 0.105}},
                   "y": {"field": "y", "type": "quantitative", "scale": {"domain": [0, 1], "nice": false}, "axis": {"values": [0, 0.2, 0.4, 0.6, 0.8, 1], "format": ".1f", "labelOverlap": false}},
                   "text": {"field": "label"}
                 }}
              ]
            }
          ],
          "spacing": 86,
          "center": true,
          "bounds": "flush"
        }
      ],
      "spacing": 15,
      "bounds": "flush"
    }
  ],
  "spacing": 235,
  "bounds": "flush",
  "config": {
    "font": "Liberation Sans",
    "view": {"stroke": null},
    "axis": {"domainColor": "#000", "tickColor": "#000", "labelColor": "#000", "titleColor": "#000", "grid": false, "domainWidth": 2, "tickWidth": 1.5, "tickSize": 5, "titleFontWeight": "normal", "titleFontSize": 14.5},
    "axisY": {"labelFontWeight": "bold", "labelFontSize": 12, "labelPadding": 2, "titlePadding": 7, "labelOverlap": false},
    "axisX": {"labelFontSize": 14.5, "labelAngle": 0, "labelLineHeight": 17, "labelBaseline": "alphabetic", "labelPadding": 18, "titleLineHeight": 17, "titleAlign": "left", "titleBaseline": "alphabetic", "titleY": 23, "labelExpr": "split(datum.value, '/')"},
    "title": {"fontSize": 16, "fontWeight": "bold", "anchor": "start", "frame": "group", "color": "#000", "baseline": "alphabetic"}
  }
}
